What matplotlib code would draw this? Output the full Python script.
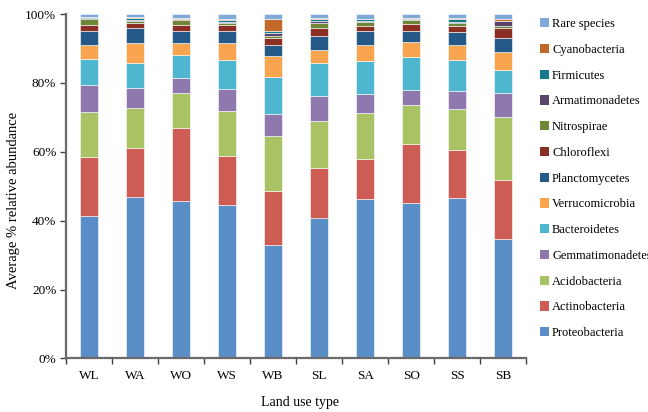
import numpy as np
import matplotlib
matplotlib.use("Agg")
import matplotlib.pyplot as plt
from matplotlib.patches import Patch
from matplotlib.ticker import PercentFormatter

plt.rcParams["font.family"] = ["Liberation Serif", "DejaVu Serif"]

# land use types
sites = ["WL", "WA", "WO", "WS", "WB", "SL", "SA", "SO", "SS", "SB"]

# average % relative abundance per phylum
proteobacteria = [41.5, 47.0, 45.6, 44.5, 33.0, 40.9, 46.3, 45.1, 46.6, 34.8]
actinobacteria = [17.1, 14.0, 21.3, 14.4, 15.5, 14.4, 11.5, 17.3, 13.8, 16.9]
acidobacteria = [13.0, 11.7, 10.1, 13.0, 16.1, 13.7, 13.4, 11.2, 12.0, 18.5]
gemmatimonadetes = [7.9, 5.8, 4.5, 6.3, 6.3, 7.2, 5.7, 4.3, 5.3, 7.0]
bacteroidetes = [7.5, 7.2, 6.6, 8.5, 10.7, 9.5, 9.4, 9.7, 9.0, 6.6]
verrucomicrobia = [4.0, 5.8, 3.4, 4.8, 6.2, 3.9, 4.7, 4.2, 4.3, 5.1]
planctomycetes = [4.0, 4.3, 3.5, 3.5, 3.2, 4.0, 4.0, 3.3, 3.7, 4.0]
chloroflexi = [1.8, 1.6, 1.7, 1.7, 2.1, 2.2, 1.6, 2.0, 1.8, 2.9]
nitrospirae = [1.7, 0.6, 1.6, 0.7, 0.6, 1.5, 1.1, 1.1, 1.0, 0.7]
armatimonadetes = [0.2, 0.4, 0.2, 0.2, 0.9, 0.7, 0.3, 0.2, 0.3, 1.4]
firmicutes = [0.3, 0.3, 0.1, 0.8, 0.4, 0.5, 0.5, 0.2, 0.7, 0.1]
cyanobacteria = [0.1, 0.4, 0.1, 0.2, 3.6, 0.2, 0.1, 0.1, 0.2, 0.6]
rare_species = [0.9, 0.9, 1.3, 1.4, 1.4, 1.3, 1.4, 1.3, 1.3, 1.4]

phyla = [
    ("Proteobacteria", proteobacteria, "#5A8EC6"),
    ("Actinobacteria", actinobacteria, "#CD5C55"),
    ("Acidobacteria", acidobacteria, "#A8C264"),
    ("Gemmatimonadetes", gemmatimonadetes, "#8E78AE"),
    ("Bacteroidetes", bacteroidetes, "#4FB6D0"),
    ("Verrucomicrobia", verrucomicrobia, "#F9A44E"),
    ("Planctomycetes", planctomycetes, "#255A88"),
    ("Chloroflexi", chloroflexi, "#8B2E24"),
    ("Nitrospirae", nitrospirae, "#6E8636"),
    ("Armatimonadetes", armatimonadetes, "#5A456F"),
    ("Firmicutes", firmicutes, "#177A8C"),
    ("Cyanobacteria", cyanobacteria, "#C2692A"),
    ("Rare species", rare_species, "#7FAAD8"),
]

fig = plt.figure(figsize=(6.48, 4.12), dpi=100)
ax = fig.add_axes([0.102, 0.130, 0.710, 0.836])

x = np.arange(len(sites))
bottom = np.zeros(len(sites))
handles = []
for name, vals, color in phyla:
    vals = np.array(vals)
    ax.bar(x, vals, bottom=bottom, width=0.4, color=color,
           edgecolor="white", linewidth=0.4)
    bottom += vals
    handles.append(Patch(facecolor=color, label=name))

ax.set_xlim(-0.5, len(sites) - 0.5)
ax.set_ylim(0, 100)
ax.set_yticks(np.arange(0, 101, 20))
ax.yaxis.set_major_formatter(PercentFormatter(decimals=0))

# category ticks sit between bars, labels centred under bars
ax.set_xticks(np.arange(-0.5, len(sites), 1.0))
ax.set_xticklabels([])
ax.set_xticks(x, minor=True)
ax.set_xticklabels(sites, minor=True)
ax.tick_params(axis="x", which="minor", length=0, pad=8, labelsize=9.5)
ax.tick_params(axis="x", which="major", length=4, width=1, color="#404040",
               direction="out")
ax.tick_params(axis="y", length=4, width=1, color="#404040", labelsize=9.5,
               pad=3)

for side in ("top", "right"):
    ax.spines[side].set_visible(False)
for side in ("left", "bottom"):
    ax.spines[side].set_color("#6a6a6a")
    ax.spines[side].set_linewidth(1.6)

ax.set_ylabel("Average % relative abundance", fontsize=10.5, va="center")
ax.yaxis.set_label_coords(-0.115, 0.46)
ax.set_xlabel("Land use type", fontsize=10, va="center")
ax.xaxis.set_label_coords(0.509, -0.129)

fig.legend(handles=handles[::-1], loc="upper left",
           bbox_to_anchor=(0.825, 0.968), frameon=False, fontsize=9,
           handlelength=0.75, handleheight=0.75, handletextpad=0.25,
           labelspacing=1.1, borderaxespad=0)

fig.savefig("out.png", dpi=100)
